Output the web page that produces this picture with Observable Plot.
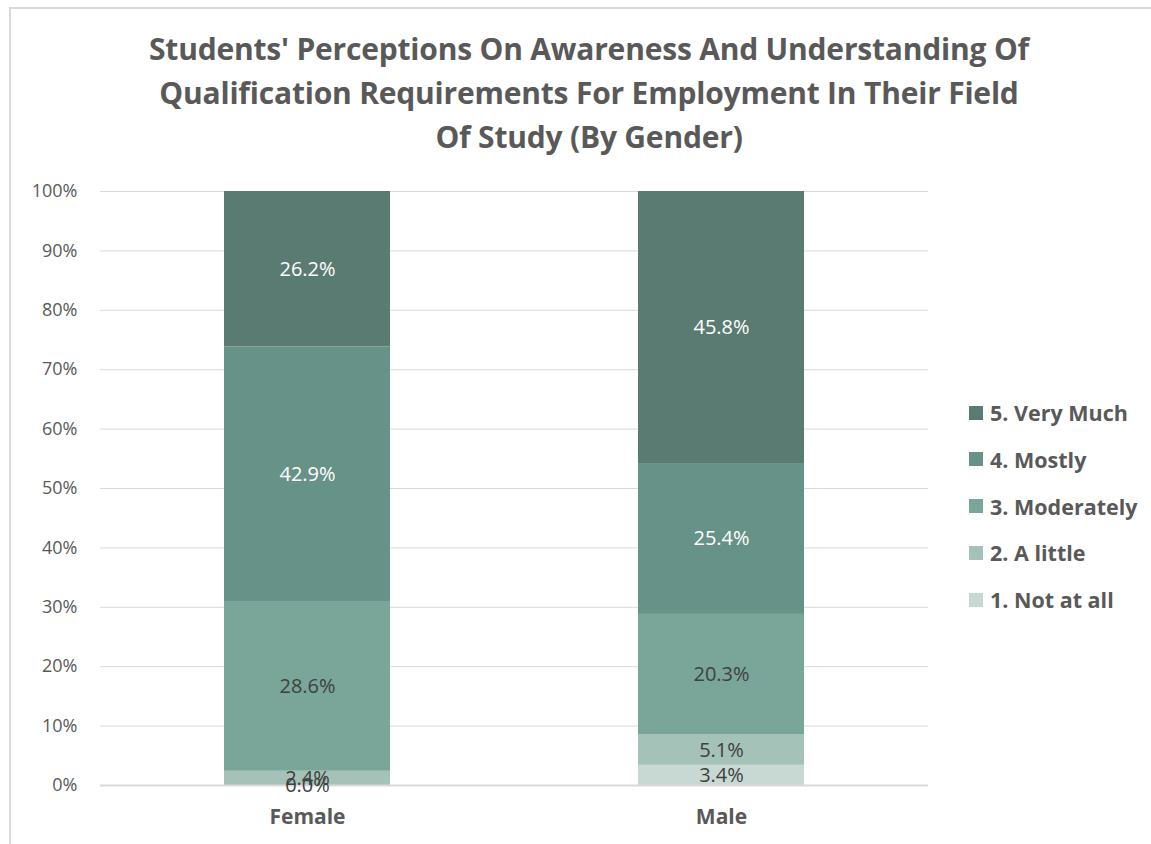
<!DOCTYPE html>
<html>
<head>
<meta charset="utf-8">
<script src="https://cdn.jsdelivr.net/npm/d3@7"></script>
<script src="https://cdn.jsdelivr.net/npm/@observablehq/plot@0.6"></script>
<style>
  html, body { margin: 0; padding: 0; background: #fff; }
  #wrap { position: relative; width: 1151px; height: 844px; overflow: hidden; font-family: "Open Sans", sans-serif; }
  #frame { position: absolute; left: 9px; top: 7px; right: -2px; bottom: -2px; border-left: 2px solid #d9d9d9; border-top: 2px solid #d9d9d9; }
  #title { position: absolute; left: 0; top: 27px; width: 1178px; text-align: center; font-weight: 700; font-size: 30px; line-height: 44px; color: #595959; letter-spacing: -0.2px; }
  #chart { position: absolute; left: 0; top: 0; }
  #legend { position: absolute; left: 969px; top: 400px; color: #595959; font-weight: 700; font-size: 21.5px; }
  .row { height: 47px; display: flex; align-items: center; position: absolute; left: 0; white-space: nowrap; }
  .sw { width: 14px; height: 14px; margin-right: 7px; }
</style>
</head>
<body>
<div id="wrap">
  <div id="frame"></div>
  <div id="chart"></div>
  <div id="title">Students' Perceptions On Awareness And Understanding Of<br>Qualification Requirements For Employment In Their Field<br>Of Study (By Gender)</div>
  <div id="legend"></div>
</div>
<script>
const genders = ["Female", "Male"];
const levels = ["1. Not at all", "2. A little", "3. Moderately", "4. Mostly", "5. Very Much"];
const femaleValues = [0.0, 2.4, 28.6, 42.9, 26.2];
const maleValues = [3.4, 5.1, 20.3, 25.4, 45.8];
const levelColors = ["#c8d9d4", "#a5c2b9", "#7aa69a", "#679287", "#5a7b72"];
const labelColors = ["#404040", "#404040", "#404040", "#ffffff", "#ffffff"];
const yTicks = [0, 0.1, 0.2, 0.3, 0.4, 0.5, 0.6, 0.7, 0.8, 0.9, 1.0];

const series = [femaleValues, maleValues];
const data = [];
genders.forEach((g, gi) => {
  levels.forEach((lv, li) => {
    data.push({gender: g, level: lv, value: series[gi][li], li});
  });
});

const stackOpts = {offset: "normalize", x: "gender", y: "value", z: "level"};

const chart = Plot.plot({
  width: 1151,
  height: 844,
  marginTop: 191,
  marginBottom: 59,
  marginLeft: 100,
  marginRight: 223,
  style: {fontFamily: "'Open Sans', sans-serif", background: "transparent", overflow: "visible"},
  x: {domain: genders, paddingInner: 0.6, paddingOuter: 0.3, label: null, axis: null},
  y: {domain: [0, 1], label: null, axis: null},
  color: {domain: levels, range: levelColors},
  marks: [
    Plot.gridY(yTicks, {stroke: "#d9d9d9", strokeOpacity: 1, strokeWidth: 1}),
    Plot.barY(data, Plot.stackY({...stackOpts, fill: "level"})),
    Plot.ruleY([0], {stroke: "#d9d9d9", strokeWidth: 2}),
    Plot.axisY(yTicks, {tickSize: 0, tickPadding: 23, tickFormat: d => Math.round(d * 100) + "%", fontSize: 18, fill: "#595959", label: null}),
    Plot.axisX(genders, {tickSize: 0, tickPadding: 24, fontSize: 21, fontWeight: 700, fill: "#595959", label: null}),
    Plot.text(data, Plot.stackY({...stackOpts, text: d => d.value.toFixed(1) + "%", fill: d => labelColors[d.li], fontSize: 20}))
  ]
});
document.getElementById("chart").appendChild(chart);

const legend = document.getElementById("legend");
levels.slice().reverse().forEach((lv, i) => {
  const idx = levels.indexOf(lv);
  const row = document.createElement("div");
  row.className = "row";
  row.style.top = (i * 46.8 - 11) + "px";
  const sw = document.createElement("div");
  sw.className = "sw";
  sw.style.background = levelColors[idx];
  const tx = document.createElement("span");
  tx.textContent = lv;
  row.appendChild(sw);
  row.appendChild(tx);
  legend.appendChild(row);
});
</script>
</body>
</html>
